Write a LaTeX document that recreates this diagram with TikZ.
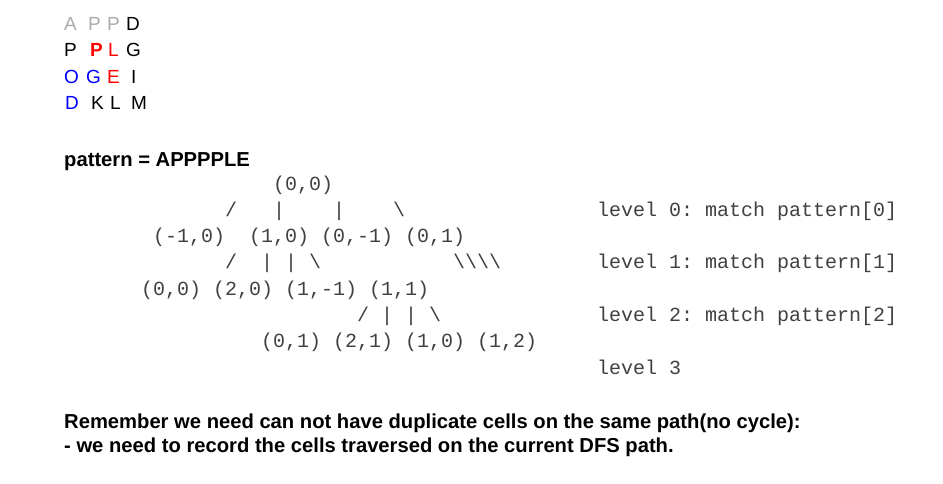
\documentclass[tikz,border=0pt]{standalone}
\usepackage{fontspec}
\setmainfont{Liberation Sans}
\setmonofont{Liberation Mono}
\usepackage{xcolor}
\definecolor{gridgray}{HTML}{ABABAB}
\definecolor{gridred}{HTML}{FF0000}
\definecolor{gridblue}{HTML}{0000FF}
\definecolor{treeink}{HTML}{404040}

\begin{document}
\begin{tikzpicture}[x=1pt, y=-1pt,
  cell/.style={anchor=base west, inner sep=0pt, font=\fontsize{19}{22}\selectfont},
  heading/.style={anchor=base west, inner sep=0pt, font=\fontsize{20.2}{24}\selectfont\bfseries},
  treeline/.style={anchor=base west, inner sep=0pt, text=treeink, font=\fontsize{20}{24}\selectfont\ttfamily}]
  \useasboundingbox (0,0) rectangle (943,484);

  % the board
  \foreach \x/\y/\ch/\col [count=\i] in {
      64/30.5/A/gridgray, 88/30.5/P/gridgray, 107/30.5/P/gridgray, 126/30.5/D/black,
      64/57/P/black, 90/57/{\bfseries P}/gridred, 108/57/L/gridred, 126/57/G/black,
      64/83.5/O/gridblue, 86/83.5/G/gridblue, 107/83.5/E/gridred, 131/83.5/I/black,
      65/110/D/gridblue, 91/110/K/black, 110/110/L/black, 131/110/M/black}
    \node[cell, text=\col] (c\i) at (\x,\y) {\ch};

  \node[heading] (pat) at (64,167) {pattern = APPPPLE};

  % dfs tree, one text line per row
  \node[treeline] (r0) at (273,190) {(0,0)};
  \node[treeline] (r1) at (225,216.3) {/~~~|~~~~|~~~~\textbackslash};
  \node[treeline] (r2) at (153,242.6) {(-1,0)~~(1,0)~(0,-1)~(0,1)};
  \node[treeline] (r3) at (225,268.9) {/~~|~|~\textbackslash~~~~~~~~~~~\textbackslash\textbackslash\textbackslash\textbackslash};
  \node[treeline] (r4) at (141,295.2) {(0,0)~(2,0)~(1,-1)~(1,1)};
  \node[treeline] (r5) at (357,321.5) {/~|~|~\textbackslash};
  \node[treeline] (r6) at (261,347.8) {(0,1)~(2,1)~(1,0)~(1,2)};

  \node[treeline] (lv0) at (597,216.3) {level 0: match pattern[0]};
  \node[treeline] (lv1) at (597,268.9) {level 1: match pattern[1]};
  \node[treeline] (lv2) at (597,321.5) {level 2: match pattern[2]};
  \node[treeline] (lv3) at (597,374.1) {level 3};

  \node[heading] (note1) at (64,428) {Remember we need can not have duplicate cells on the same path(no cycle):};
  \node[heading] (note2) at (64,452) {- we need to record the cells traversed on the current DFS path.};
\end{tikzpicture}
\end{document}
